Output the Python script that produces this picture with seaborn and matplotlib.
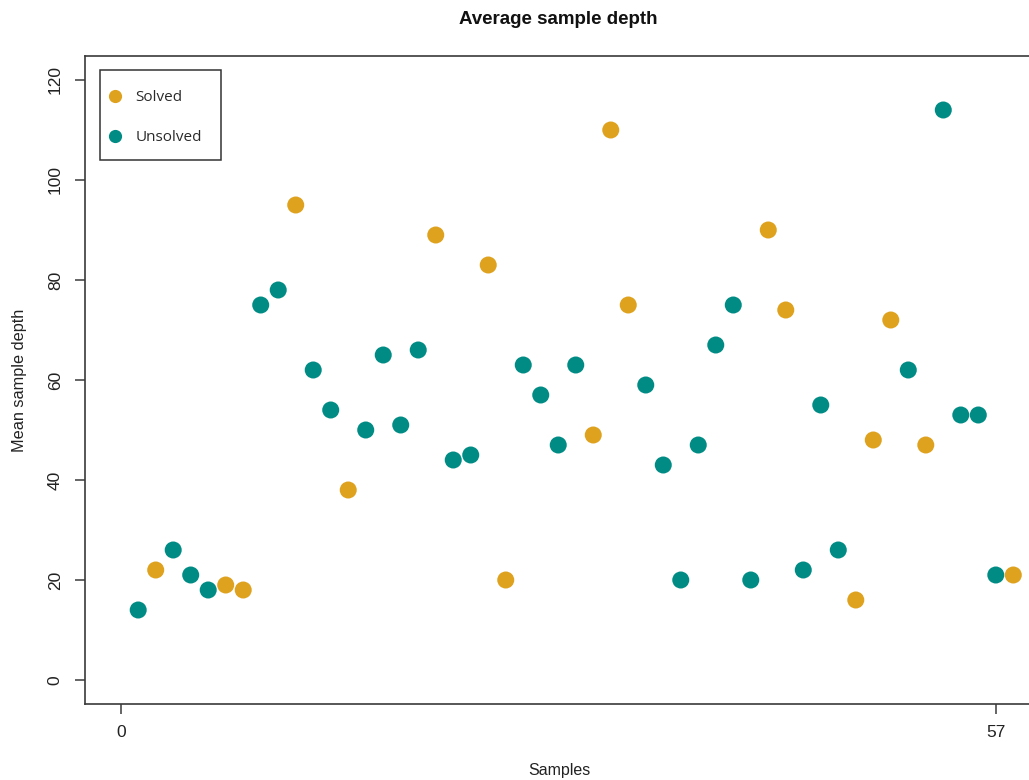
import matplotlib
matplotlib.use("Agg")
import matplotlib.pyplot as plt
from matplotlib.lines import Line2D
from matplotlib.patches import Rectangle
import seaborn as sns
import pandas as pd
import numpy as np

# ---- data ----
depth = [14, 22, 26, 21, 18, 19, 18, 75, 78, 95, 62, 54, 38, 50, 65, 51, 66, 89, 44, 45,
         83, 20, 63, 57, 47, 63, 49, 110, 75, 59, 43, 20, 47, 67, 75, 20, 90, 74, 22, 55,
         26, 16, 48, 72, 62, 47, 114, 53, 53, 21, 21]
status = ["U", "S", "U", "U", "U", "S", "S", "U", "U", "S", "U", "U", "S", "U", "U", "U", "U", "S", "U", "U",
          "S", "S", "U", "U", "U", "U", "S", "S", "S", "U", "U", "U", "U", "U", "U", "U", "S", "S", "U", "U",
          "U", "S", "S", "S", "U", "S", "U", "U", "U", "U", "S"]
status_names = {"S": "Solved", "U": "Unsolved"}
legend_labels = ["Solved", "Unsolved"]
x_tick_pos = [0, 50]
x_tick_labels = ["0", "57"]
y_ticks = [0, 20, 40, 60, 80, 100, 120]

colors = {"Solved": "#DFA21F", "Unsolved": "#008C84"}

df = pd.DataFrame({
    "sample": np.arange(1, len(depth) + 1),
    "depth": depth,
    "status": [status_names[s] for s in status],
})

sns.set_style("white")
plt.rcParams["font.family"] = ["Liberation Sans", "DejaVu Sans"]

W, H = 1029, 780
AX_L, AX_R, AX_T, AX_B = 85, 1049, 56, 704
fig = plt.figure(figsize=(W / 100, H / 100), dpi=100)
ax = fig.add_axes([AX_L / W, (H - AX_B) / H, (AX_R - AX_L) / W, (AX_B - AX_T) / H])

sns.scatterplot(data=df, x="sample", y="depth", hue="status", palette=colors,
                s=150, linewidth=0, ax=ax, legend=False, zorder=3)

ax.set_xlim(-2.04, 53.04)
ax.set_ylim(-4.8, 124.8)

ax.set_xticks(x_tick_pos)
ax.set_xticklabels(x_tick_labels)
ax.set_yticks(y_ticks)
ax.set_yticklabels([str(v) for v in y_ticks], rotation=90, va="center")

edge = "#3a3a3a"
for side in ["left", "bottom", "top", "right"]:
    ax.spines[side].set_visible(True)
    ax.spines[side].set_color(edge)
    ax.spines[side].set_linewidth(1.2)

ax.tick_params(axis="both", which="major", direction="out", length=7, width=1.1,
               color=edge, labelsize=12.5, labelcolor="#222222",
               left=True, bottom=True)
ax.tick_params(axis="y", pad=9)
ax.tick_params(axis="x", pad=8)

ax.set_xlabel("")
ax.set_ylabel("")
fig.text(558 / W, 1 - 19 / H, "Average sample depth", ha="center", va="center",
         fontsize=13.5, fontweight="bold", color="#111111")
fig.text(559 / W, 1 - 770 / H, "Samples", ha="center", va="center",
         fontsize=11.5, color="#222222")
fig.text(20 / W, 1 - 380 / H, "Mean sample depth", ha="center", va="center",
         fontsize=11.7, rotation=90, color="#222222")

# legend frame (pixel box 100..221 x 70..160)
axw, axh = AX_R - AX_L, AX_B - AX_T
ax.add_patch(Rectangle(((100 - AX_L) / axw, (AX_B - 160) / axh),
                       (221 - 100) / axw, (160 - 70) / axh,
                       transform=ax.transAxes, facecolor="white",
                       edgecolor="#333333", linewidth=1.1, zorder=4))

handles = [Line2D([0], [0], marker="o", linestyle="none", markersize=9.5,
                  markerfacecolor=colors[l], markeredgewidth=0) for l in legend_labels]
leg = ax.legend(handles, legend_labels, loc="upper left",
                bbox_to_anchor=((108 - AX_L) / axw, (AX_B - 90) / axh),
                frameon=False,
                prop={"family": ["Open Sans", "DejaVu Sans"], "size": 11},
                labelspacing=1.64, handletextpad=0.85, handlelength=0.95,
                borderpad=0, borderaxespad=0)
leg.set_zorder(5)
for t in leg.get_texts():
    t.set_color("#2a2a2a")

fig.savefig("out.png", dpi=100)
